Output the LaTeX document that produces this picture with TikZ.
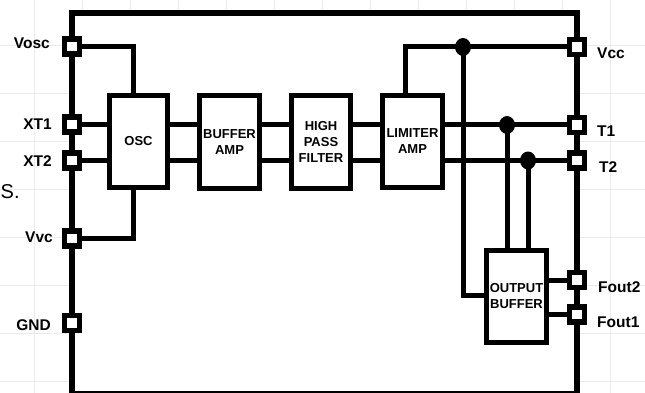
\documentclass[tikz,border=0pt]{standalone}
\usepackage{fontspec}
\setmainfont{Liberation Sans}
\pgfdeclarelayer{bg}
\pgfsetlayers{bg,main}
\tikzset{
  gridline/.style={draw=black!8, line width=0.8pt},
  frameline/.style={draw=black, line width=6pt},
  wire/.style={draw=black, line width=5pt},
  pad/.style={draw=black, fill=white, rectangle, line width=5.5pt, minimum size=15pt, inner sep=0pt},
  block/.style={draw=black, fill=white, rectangle, line width=5pt, inner sep=0pt,
    font=\fontsize{13}{16}\selectfont\bfseries, align=center},
  dot/.style={fill=black, ellipse, minimum width=16pt, minimum height=18pt, inner sep=0pt},
  lbl/.style={font=\fontsize{15.5}{18}\selectfont\bfseries, inner sep=0pt},
}
\usetikzlibrary{shapes.geometric}
\begin{document}
\begin{tikzpicture}[x=1pt, y=-1pt]
\useasboundingbox (0,0) rectangle (645,393);
% pads
\node[pad] (vosc) at (72,46.5) {};
\node[pad] (xt1) at (72,124.5) {};
\node[pad] (xt2) at (72,160.5) {};
\node[pad] (vvc) at (72,238.5) {};
\node[pad] (gnd) at (72,323) {};
\node[pad] (vcc) at (577,47) {};
\node[pad] (t1) at (577,125) {};
\node[pad] (t2) at (577,160.5) {};
\node[pad] (fout2) at (577,280) {};
\node[pad] (fout1) at (577,314.5) {};
% blocks
\node[block, minimum width=58pt, minimum height=92pt] (osc) at (138.5,141.5) {OSC};
\node[block, minimum width=60pt, minimum height=93pt] (buf) at (229.5,142) {BUFFER\\AMP};
\node[block, minimum width=59pt, minimum height=93pt] (hpf) at (321,142) {HIGH\\PASS\\FILTER};
\node[block, minimum width=60pt, minimum height=92pt] (lim) at (412.5,141.5) {LIMITER\\AMP};
\node[block, minimum width=60pt, minimum height=92pt] (out) at (516.5,296.5) {OUTPUT\\BUFFER};
% junctions
\node[dot] (j1) at (463,47) {};
\node[dot] (j2) at (507,125) {};
\node[dot] (j3) at (528,160.5) {};
% labels
\node[lbl, anchor=base east] (lvosc) at (50,48.5) {Vosc};
\node[lbl, anchor=base east] (lxt1) at (52,130) {XT1};
\node[lbl, anchor=base east] (lxt2) at (52,166) {XT2};
\node[lbl, anchor=base east] (lvvc) at (53,242) {Vvc};
\node[lbl, anchor=base east] (lgnd) at (51,330) {GND};
\node[lbl, anchor=base west] (lvcc) at (597,59) {Vcc};
\node[lbl, anchor=base west] (lt1) at (597,136) {T1};
\node[lbl, anchor=base west] (lt2) at (599,172) {T2};
\node[lbl, anchor=base west] (lfout2) at (598,292) {Fout2};
\node[lbl, anchor=base west] (lfout1) at (597,327) {Fout1};
\node[anchor=base west, inner sep=0pt, font=\fontsize{20}{24}\selectfont] (stxt) at (0.5,198) {S.};
\begin{pgfonlayer}{bg}
  \foreach \gx in {-14,34,...,640} \draw[gridline] (\gx,0) -- (\gx,393);
  \foreach \gy in {-3,45,...,390} \draw[gridline] (0,\gy) -- (645,\gy);
  \fill[white] (72,13) rectangle (577,392);
  \draw[frameline, line join=miter] (72,396) -- (72,13) -- (577,13) -- (577,396);
  \draw[black, line width=1.5pt] (72,391.8) -- (577,391.8);
  % left side wires
  \draw[wire] (vosc.center) -| ([xshift=-5.5pt]osc.north);
  \draw[wire] (vvc.center) -| ([xshift=-5.5pt]osc.south);
  \draw[wire] (xt1.center) -- (xt1 -| osc.west);
  \draw[wire] (xt2.center) -- (xt2 -| osc.west);
  % chain
  \draw[wire] (osc.east |- xt1) -- (buf.west |- xt1);
  \draw[wire] (osc.east |- xt2) -- (buf.west |- xt2);
  \draw[wire] (buf.east |- xt1) -- (hpf.west |- xt1);
  \draw[wire] (buf.east |- xt2) -- (hpf.west |- xt2);
  \draw[wire] (hpf.east |- xt1) -- (lim.west |- xt1);
  \draw[wire] (hpf.east |- xt2) -- (lim.west |- xt2);
  \draw[wire] (lim.east |- t1) -- (t1.center);
  \draw[wire] (lim.east |- t2) -- (t2.center);
  % right side
  \draw[wire] (vcc.center) -| ([xshift=-7.5pt]lim.north);
  \draw[wire] (j1.center) |- ([yshift=1.5pt]out.west);
  \draw[wire] (j2.center) -- (j2 |- out.north);
  \draw[wire] (j3.center) -- (j3 |- out.north);
  \draw[wire] (out.east |- fout2) -- (fout2.center);
  \draw[wire] (out.east |- fout1) -- (fout1.center);
\end{pgfonlayer}
\end{tikzpicture}
\end{document}
